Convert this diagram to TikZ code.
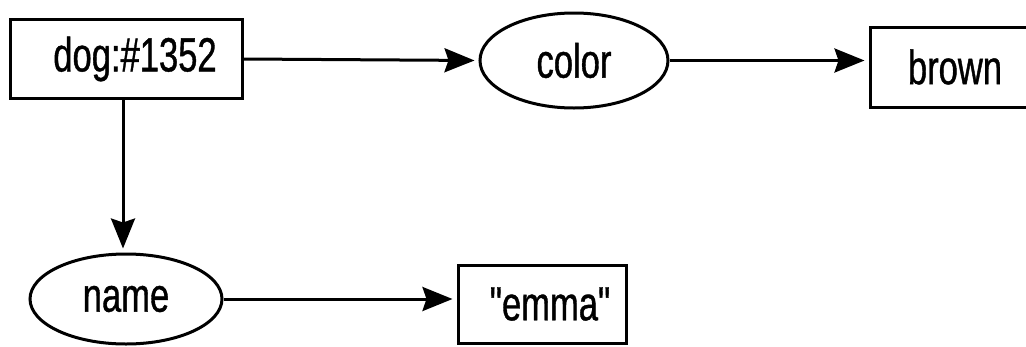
\documentclass[tikz,border=0pt]{standalone}
\usepackage{fontspec}
% plain family without TeX ligatures, so " stays a straight quote
\newfontfamily\labelfont{Liberation Sans}[FakeStretch=0.72,FakeBold=0.8]
\usetikzlibrary{arrows.meta,shapes.geometric}
\begin{document}
\begin{tikzpicture}[x=1pt,y=-1pt,
  every node/.style={font=\labelfont\fontsize{48}{50}\selectfont, inner sep=0pt},
  objbox/.style={draw, line width=3pt, rectangle},
  attr/.style={draw, line width=3pt, ellipse},
  link/.style={line width=3pt, shorten >=4pt,
    -{Stealth[length=30pt,width=24pt,inset=4pt]}}]
  \useasboundingbox (0,0) rectangle (1026,346);
  \clip (0,0) rectangle (1026,346);
  % entity and its attribute values
  \node[objbox, minimum width=232pt, minimum height=79pt] (dog) at (126,59) {\hspace*{18pt}dog:\#1352};
  \node[attr, minimum width=188pt, minimum height=95pt] (color) at (574,60.5) {color};
  \node[objbox, minimum width=170pt, minimum height=80pt] (brown) at (955,67) {brown};
  \node[attr, minimum width=192pt, minimum height=90pt] (name) at (126,299) {name};
  \node[objbox, minimum width=168pt, minimum height=78pt] (emma) at (542,304) {\hspace*{16pt}"emma"};
  % relations
  \draw[link] (dog.east) -- (color.west);
  \draw[link] (color.east) -- (color.east -| brown.west);
  \draw[link] (dog.south -| 123,0) -- (name.north -| 123,0);
  \draw[link] (name.east) -- (name.east -| emma.west);
\end{tikzpicture}
\end{document}
